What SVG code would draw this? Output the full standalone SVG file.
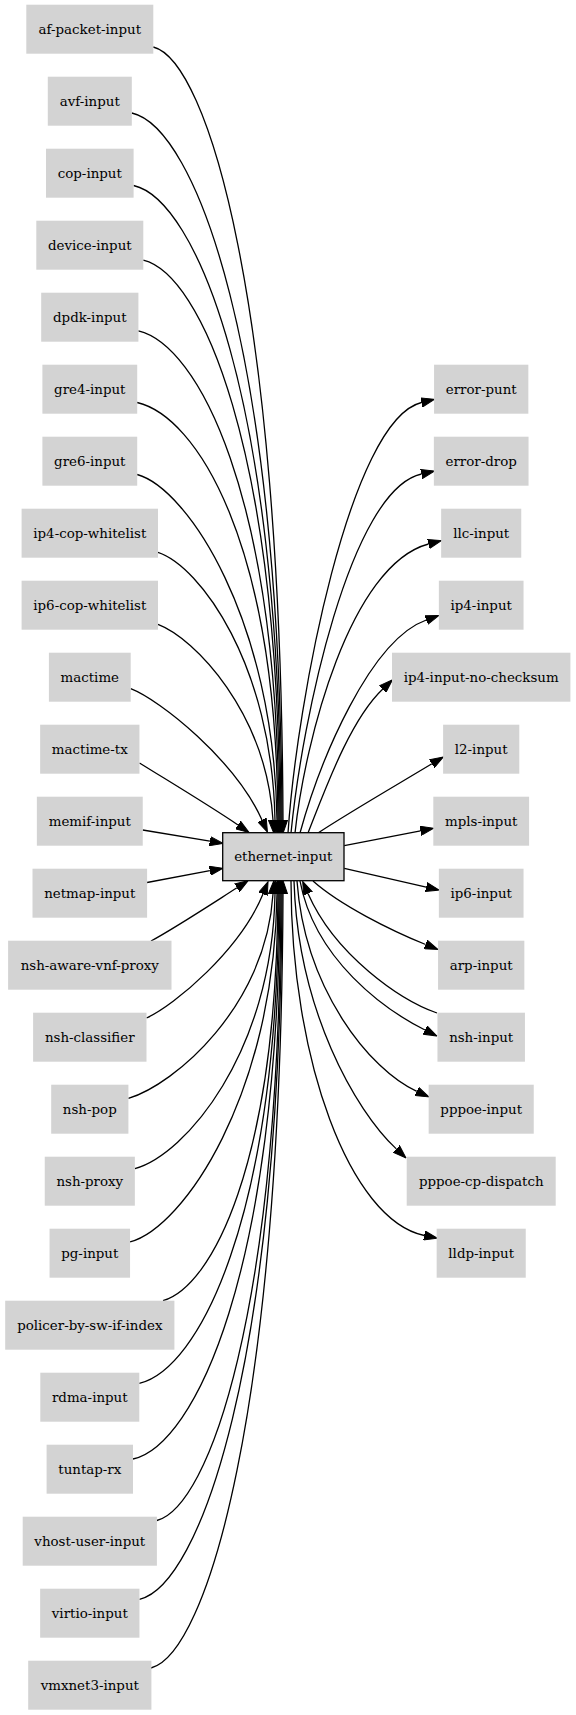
<svg xmlns="http://www.w3.org/2000/svg" width="576" height="1715" viewBox="0 0 576 1715">
<style>
.n rect{fill:#d3d3d3;stroke:none}
.m rect{fill:#d3d3d3;stroke:#000;stroke-width:1.3}
text{font-family:"DejaVu Serif","Liberation Serif",serif;font-size:13.4px;text-anchor:middle;fill:#000}
.e path{fill:none;stroke:#000;stroke-width:1.3;marker-end:url(#ah)}
</style>
<defs>
<marker id="ah" markerUnits="userSpaceOnUse" viewBox="0 -5 14 10" refX="0" refY="0" markerWidth="14" markerHeight="10" orient="auto">
<path d="M0,-4.6 L13.3,0 L0,4.6 z" fill="#000" stroke="#000" stroke-width="1"/>
</marker>
</defs>
<rect width="576" height="1715" fill="#fff"/>
<g id="edges" class="e">
<path d="M153.3,47 C207.8,61 281,302.1 283,820"/>
<path d="M131.8,113 C194.9,127 280,346.3 282,820"/>
<path d="M133.6,185.5 C195.5,199.5 279,394.9 281,820"/>
<path d="M143.3,260.2 C200.7,274.2 278,444.9 280,820"/>
<path d="M138.4,330.8 C197.5,344.8 277,492.2 279,820"/>
<path d="M137.2,402.5 C196.3,416.5 276,540.3 278,820"/>
<path d="M137.2,474.5 C187.5,488.5 274,619.6 277,820"/>
<path d="M158,552.3 C200.1,566.3 272,664.7 275,820"/>
<path d="M158,624.3 C194.8,638.3 266,712.4 273,820"/>
<path d="M130.7,688.7 C160,700 235,760 262,820"/>
<path d="M139.5,763 C175,785 210,806 238,825"/>
<path d="M142.7,830 L209.9,841.2"/>
<path d="M147.1,882.5 L209.9,870.7"/>
<path d="M151,941 C175,928 210,905 237,887.8"/>
<path d="M146.5,1018 C175,1005 240,950 263,894"/>
<path d="M128.4,1098.4 C174.7,1084.4 266,1006.4 273,894"/>
<path d="M134.9,1168.6 C185.3,1154.6 272,1053.3 275,894"/>
<path d="M130.1,1241.9 C183,1227.9 274,1095.8 277,894"/>
<path d="M163,1300.7 C211.3,1286.7 276,1166.5 278,894"/>
<path d="M139.3,1383.3 C198,1369.3 277,1221.8 279,894"/>
<path d="M133,1459 C194.7,1445 278,1272.6 280,894"/>
<path d="M156.9,1520.5 C209,1506.5 279,1313.8 281,894"/>
<path d="M139.5,1599.3 C199.4,1585.3 280,1366.5 282,894"/>
<path d="M151,1668 C206.4,1654 281,1412.6 283,894"/>
<path d="M288,833 C297,700 350,420 421.5,402.5"/>
<path d="M291,833 C302,720 350,490 421.5,474"/>
<path d="M295,833 C305,740 350,565 428.5,544"/>
<path d="M300,833 C320,760 370,640 426.3,620"/>
<path d="M308,833 C325,790 350,720 382.8,689"/>
<path d="M318,833 C350,812 395,786 431.9,763.8"/>
<path d="M344.3,845.7 L420.5,830.8"/>
<path d="M344.3,868.3 L426.2,887.1"/>
<path d="M313,881 C340,905 390,930 425.6,944.5"/>
<path d="M300,881 C315,960 385,1010 425,1030"/>
<path d="M437,1013 C400,1000 335,955 308,893.5"/>
<path d="M297,881 C305,990 370,1070 416.8,1091.4"/>
<path d="M294,881 C298,1010 355,1110 396.3,1148.9"/>
<path d="M291,881 C291,1060 350,1220 424.3,1235.5"/>
</g>
<g id="ethernet-input" class="m"><rect x="222.7" y="832.7" width="121.3" height="48"/><text x="283.3" y="861.2">ethernet-input</text></g>
<g id="af-packet-input" class="n"><rect x="26.3" y="4.7" width="127" height="49"/><text x="89.8" y="33.7">af-packet-input</text></g>
<g id="avf-input" class="n"><rect x="47.8" y="76.7" width="84" height="49"/><text x="89.8" y="105.7">avf-input</text></g>
<g id="cop-input" class="n"><rect x="46" y="148.7" width="87.6" height="49"/><text x="89.8" y="177.7">cop-input</text></g>
<g id="device-input" class="n"><rect x="36.3" y="220.7" width="107" height="49"/><text x="89.8" y="249.7">device-input</text></g>
<g id="dpdk-input" class="n"><rect x="41.2" y="292.7" width="97.2" height="49"/><text x="89.8" y="321.7">dpdk-input</text></g>
<g id="gre4-input" class="n"><rect x="42.4" y="364.7" width="94.8" height="49"/><text x="89.8" y="393.7">gre4-input</text></g>
<g id="gre6-input" class="n"><rect x="42.4" y="436.7" width="94.8" height="49"/><text x="89.8" y="465.7">gre6-input</text></g>
<g id="ip4-cop-whitelist" class="n"><rect x="21.6" y="508.7" width="136.4" height="49"/><text x="89.8" y="537.7">ip4-cop-whitelist</text></g>
<g id="ip6-cop-whitelist" class="n"><rect x="21.6" y="580.7" width="136.4" height="49"/><text x="89.8" y="609.7">ip6-cop-whitelist</text></g>
<g id="mactime" class="n"><rect x="48.9" y="652.7" width="81.8" height="49"/><text x="89.8" y="681.7">mactime</text></g>
<g id="mactime-tx" class="n"><rect x="40.15" y="724.7" width="99.3" height="49"/><text x="89.8" y="753.7">mactime-tx</text></g>
<g id="memif-input" class="n"><rect x="36.85" y="796.7" width="105.9" height="49"/><text x="89.8" y="825.7">memif-input</text></g>
<g id="netmap-input" class="n"><rect x="32.5" y="868.7" width="114.6" height="49"/><text x="89.8" y="897.7">netmap-input</text></g>
<g id="nsh-aware-vnf-proxy" class="n"><rect x="8.1" y="940.7" width="163.4" height="49"/><text x="89.8" y="969.7">nsh-aware-vnf-proxy</text></g>
<g id="nsh-classifier" class="n"><rect x="33.1" y="1012.7" width="113.4" height="49"/><text x="89.8" y="1041.7">nsh-classifier</text></g>
<g id="nsh-pop" class="n"><rect x="51.2" y="1084.7" width="77.2" height="49"/><text x="89.8" y="1113.7">nsh-pop</text></g>
<g id="nsh-proxy" class="n"><rect x="44.75" y="1156.7" width="90.1" height="49"/><text x="89.8" y="1185.7">nsh-proxy</text></g>
<g id="pg-input" class="n"><rect x="49.55" y="1228.7" width="80.5" height="49"/><text x="89.8" y="1257.7">pg-input</text></g>
<g id="policer-by-sw-if-index" class="n"><rect x="5.2" y="1300.7" width="169.2" height="49"/><text x="89.8" y="1329.7">policer-by-sw-if-index</text></g>
<g id="rdma-input" class="n"><rect x="40.3" y="1372.7" width="99" height="49"/><text x="89.8" y="1401.7">rdma-input</text></g>
<g id="tuntap-rx" class="n"><rect x="46.6" y="1444.7" width="86.4" height="49"/><text x="89.8" y="1473.7">tuntap-rx</text></g>
<g id="vhost-user-input" class="n"><rect x="22.7" y="1516.7" width="134.2" height="49"/><text x="89.8" y="1545.7">vhost-user-input</text></g>
<g id="virtio-input" class="n"><rect x="40.15" y="1588.7" width="99.3" height="49"/><text x="89.8" y="1617.7">virtio-input</text></g>
<g id="vmxnet3-input" class="n"><rect x="28.2" y="1660.7" width="123.2" height="49"/><text x="89.8" y="1689.7">vmxnet3-input</text></g>
<g id="error-punt" class="n"><rect x="434.05" y="364.7" width="94.3" height="49"/><text x="481.2" y="393.7">error-punt</text></g>
<g id="error-drop" class="n"><rect x="433.85" y="436.7" width="94.7" height="49"/><text x="481.2" y="465.7">error-drop</text></g>
<g id="llc-input" class="n"><rect x="441.15" y="508.7" width="80.1" height="49"/><text x="481.2" y="537.7">llc-input</text></g>
<g id="ip4-input" class="n"><rect x="438.85" y="580.7" width="84.7" height="49"/><text x="481.2" y="609.7">ip4-input</text></g>
<g id="ip4-input-no-checksum" class="n"><rect x="392" y="652.7" width="178.4" height="49"/><text x="481.2" y="681.7">ip4-input-no-checksum</text></g>
<g id="l2-input" class="n"><rect x="443.1" y="724.7" width="76.2" height="49"/><text x="481.2" y="753.7">l2-input</text></g>
<g id="mpls-input" class="n"><rect x="433.3" y="796.7" width="95.8" height="49"/><text x="481.2" y="825.7">mpls-input</text></g>
<g id="ip6-input" class="n"><rect x="438.85" y="868.7" width="84.7" height="49"/><text x="481.2" y="897.7">ip6-input</text></g>
<g id="arp-input" class="n"><rect x="438.05" y="940.7" width="86.3" height="49"/><text x="481.2" y="969.7">arp-input</text></g>
<g id="nsh-input" class="n"><rect x="437.45" y="1012.7" width="87.5" height="49"/><text x="481.2" y="1041.7">nsh-input</text></g>
<g id="pppoe-input" class="n"><rect x="428.65" y="1084.7" width="105.1" height="49"/><text x="481.2" y="1113.7">pppoe-input</text></g>
<g id="pppoe-cp-dispatch" class="n"><rect x="406.7" y="1156.7" width="149" height="49"/><text x="481.2" y="1185.7">pppoe-cp-dispatch</text></g>
<g id="lldp-input" class="n"><rect x="436.65" y="1228.7" width="89.1" height="49"/><text x="481.2" y="1257.7">lldp-input</text></g>
</svg>
